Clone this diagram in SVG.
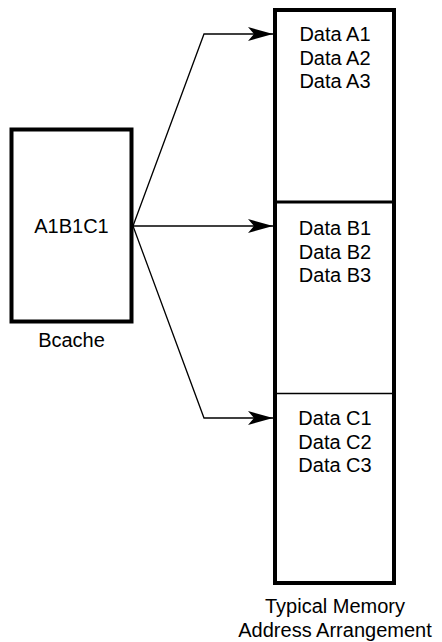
<svg xmlns="http://www.w3.org/2000/svg" width="442" height="642" viewBox="0 0 442 642">
<style>
text{font-family:"Liberation Sans",Arial,sans-serif;font-size:20px;fill:#000;text-anchor:middle}
.box{fill:#fff;stroke:#000;stroke-width:4}
.conn{fill:none;stroke:#000;stroke-width:1.3}
</style>
<defs>
<marker id="ah" markerUnits="userSpaceOnUse" markerWidth="26" markerHeight="14" refX="25" refY="7" orient="auto">
<path d="M0,0 L25,7 L0,14 L6,7 Z" fill="#000"/>
</marker>
</defs>
<g id="bcache">
<rect class="box" x="11.5" y="129.5" width="120" height="192"/>
<text x="71.5" y="233">A1B1C1</text>
<text x="71.5" y="347">Bcache</text>
</g>
<g id="memory">
<rect class="box" x="275" y="10" width="119" height="573"/>
<line x1="275" y1="202" x2="394" y2="202" stroke="#000" stroke-width="3"/>
<line x1="275" y1="393.5" x2="394" y2="393.5" stroke="#000" stroke-width="1.3"/>
<text x="335" y="41">Data A1</text>
<text x="335" y="64.5">Data A2</text>
<text x="335" y="88">Data A3</text>
<text x="335" y="235">Data B1</text>
<text x="335" y="258.5">Data B2</text>
<text x="335" y="282">Data B3</text>
<text x="335" y="425">Data C1</text>
<text x="335" y="448.5">Data C2</text>
<text x="335" y="472">Data C3</text>
<text x="335" y="613">Typical Memory</text>
<text x="335" y="637">Address Arrangement</text>
</g>
<g id="connectors">
<polyline class="conn" points="133,226 204,34 273,34" marker-end="url(#ah)"/>
<polyline class="conn" points="133,226 273,226" marker-end="url(#ah)"/>
<polyline class="conn" points="133,226 204,418 273,418" marker-end="url(#ah)"/>
</g>
</svg>
